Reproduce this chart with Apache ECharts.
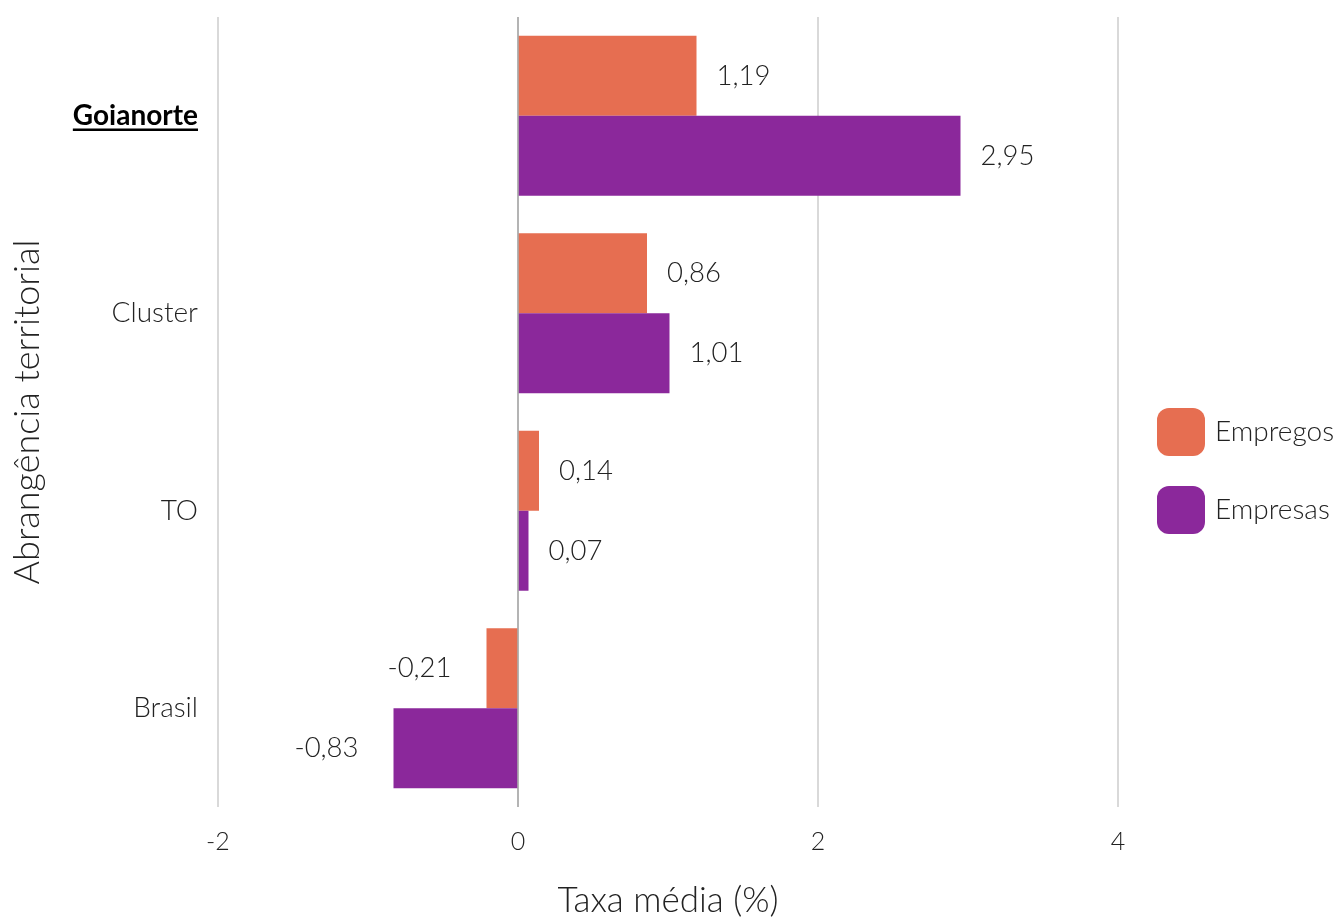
<!DOCTYPE html>
<html>
<head>
<meta charset="utf-8">
<script src="https://cdn.jsdelivr.net/npm/echarts@6/dist/echarts.min.js"></script>
<style>
  html, body { margin: 0; padding: 0; background: #fff; }
  #chart { width: 1337px; height: 917px; }
</style>
</head>
<body>
<div id="chart"></div>
<script>
// dados
const categorias = ['Goianorte', 'Cluster', 'TO', 'Brasil'];
const empregos = [1.19, 0.86, 0.14, -0.21];
const empresas = [2.95, 1.01, 0.07, -0.83];
const nomesSeries = ['Empregos', 'Empresas'];
const cores = ['#E66E51', '#8B289B'];

const fonte = 'Lato';
const corTexto = '#222';

function fmt(v) {
  return v.toFixed(2).replace('.', ',');
}

function montaDados(vals) {
  return vals.map(v => ({
    value: v,
    label: {
      position: v < 0 ? 'left' : 'right',
      distance: v < 0 ? 35 : 20
    }
  }));
}

const chart = echarts.init(document.getElementById('chart'));

const option = {
  animation: false,
  textStyle: { fontFamily: fonte },
  grid: { left: 218, top: 17, width: 900, height: 790, containLabel: false, outerBoundsMode: 'none' },
  legend: {
    orient: 'vertical',
    left: 1157,
    top: 408,
    padding: 0,
    itemWidth: 48,
    itemHeight: 48,
    itemGap: 30,
    icon: 'roundRect',
    textStyle: { fontFamily: fonte, fontWeight: 300, fontSize: 28, color: corTexto, padding: [0, 0, 0, 5] },
    data: nomesSeries
  },
  xAxis: {
    type: 'value',
    min: -2,
    max: 4,
    interval: 2,
    name: 'Taxa média (%)',
    nameLocation: 'middle',
    nameGap: 76,
    nameTextStyle: { fontFamily: fonte, fontWeight: 300, fontSize: 35, color: corTexto },
    axisLine: { show: false },
    axisTick: { show: false },
    axisLabel: { fontFamily: fonte, fontWeight: 300, fontSize: 25, color: corTexto, margin: 22 },
    splitLine: { show: true, lineStyle: { color: '#d9d9d9', width: 2 } }
  },
  yAxis: {
    type: 'category',
    data: categorias,
    inverse: true,
    name: 'Abrangência territorial',
    nameLocation: 'middle',
    nameGap: 173,
    nameRotate: 90,
    nameTextStyle: { fontFamily: fonte, fontWeight: 300, fontSize: 36, color: corTexto },
    axisLine: { show: false },
    axisTick: { show: false },
    axisLabel: {
      margin: 20,
      fontSize: 28,
      formatter: function (v) {
        return v === 'Goianorte' ? '{b|' + v + '}' : '{n|' + v + '}';
      },
      rich: {
        b: { fontFamily: fonte, fontWeight: 'bold', fontSize: 28, color: '#000' },
        n: { fontFamily: fonte, fontWeight: 300, fontSize: 28, color: corTexto }
      }
    }
  },
  series: [
    {
      name: nomesSeries[0],
      type: 'bar',
      barGap: '0%',
      barCategoryGap: '19%',
      itemStyle: { color: cores[0] },
      label: {
        show: true,
        fontFamily: fonte,
        fontWeight: 300,
        fontSize: 27.5,
        color: corTexto,
        formatter: p => fmt(p.value)
      },
      data: montaDados(empregos),
      markLine: {
        silent: true,
        symbol: 'none',
        label: { show: false },
        lineStyle: { color: '#aaa', type: 'solid', width: 2, opacity: 0.8 },
        data: [{ xAxis: 0 }]
      }
    },
    {
      name: nomesSeries[1],
      type: 'bar',
      barGap: '0%',
      barCategoryGap: '19%',
      itemStyle: { color: cores[1] },
      label: {
        show: true,
        fontFamily: fonte,
        fontWeight: 300,
        fontSize: 27.5,
        color: corTexto,
        formatter: p => fmt(p.value)
      },
      data: montaDados(empresas)
    }
  ]
};

chart.setOption(option);

// sublinhado do rótulo destacado
const ctx = document.createElement('canvas').getContext('2d');
ctx.font = 'bold 28px Lato';
const larg = ctx.measureText('Goianorte').width;
const x0 = chart.convertToPixel({ gridIndex: 0 }, [-2, 0])[0];
const y0 = chart.convertToPixel({ yAxisIndex: 0 }, 'Goianorte');
chart.setOption({
  graphic: [{
    type: 'line',
    silent: true,
    shape: { x1: x0 - 20 - larg, y1: y0 + 14, x2: x0 - 20, y2: y0 + 14 },
    style: { stroke: '#000', lineWidth: 2.5 }
  }]
});

window.addEventListener('resize', () => chart.resize());
</script>
</body>
</html>
